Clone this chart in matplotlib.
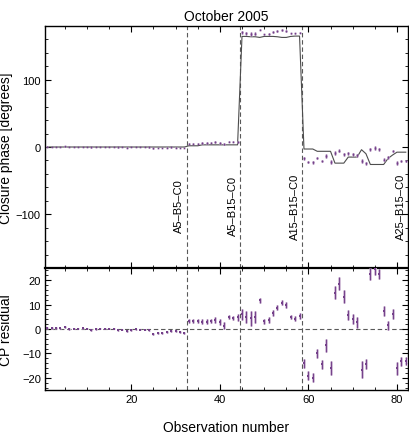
import numpy as np
import matplotlib
matplotlib.use("Agg")
import matplotlib.pyplot as plt
from matplotlib.ticker import MultipleLocator

plt.rcParams['font.family'] = ['Liberation Sans', 'DejaVu Sans']

# Observation numbers 1..82
obs = np.arange(1, 83)

# Model closure phase (degrees)
cp_model = [0.0] * 32 + \
    [1.8, 1.8, 1.8, 3.2, 3.2, 3.2, 3.2, 3.2, 3.2, 3.2, 3.2, 3.2] + \
    [164.5, 164.5, 164.0, 164.0, 163.0, 164.5, 164.5, 164.5, 164.0, 163.0, 163.0, 164.5, 165.0, 165.0] + \
    [-3, -3, -3, -6.4, -6.4, -6.4, -6.4, -24, -24, -24, -15, -15, -15, -4, -10, -26,
     -26, -26, -26, -17, -12, -7.7, -7.7, -7.7]

# Measured closure phase (degrees)
cp_obs = [0.5, 0.4, 0.4, 0.3, 0.8, 0.0, 0.2, 0.2, 0.3, 0.2, -0.5, 0.0, 0.2, 0.1, 0.2, 0.2,
          -0.6, -0.3, -0.8, -0.4, -0.2, -0.3, -0.3, -0.6, -1.9, -1.6, -1.6, -1.1, -0.7, -0.8, -1.2, -1.6,
          4.9, 5.1, 5.2, 6.1, 6.1, 6.5, 7.0, 5.9, 4.6, 8.1, 7.6, 8.0,
          170.5, 169.4, 168.4, 168.8, 174.7, 167.6, 168.1, 171.2, 172.8, 173.8, 172.9, 169.3, 169.3, 170.2,
          -17.1, -22.1, -22.9, -16.4, -20.8, -13.1, -22.5, -9.2, -5.4, -10.7, -9.4, -10.9,
          -12.3, -20.6, -24.4, -3.4, -1.5, -3.4, -18.7, -15.5, -5.8, -23.8, -21.0, -20.7]

# Residual (degrees)
cp_resid = [0.5, 0.4, 0.4, 0.3, 0.8, 0.0, 0.2, 0.2, 0.3, 0.2, -0.5, 0.0, 0.2, 0.1, 0.2, 0.2,
            -0.6, -0.3, -0.8, -0.4, -0.2, -0.3, -0.3, -0.6, -1.9, -1.6, -1.6, -1.1, -0.7, -0.8, -1.2, -1.6,
            3.1, 3.3, 3.4, 2.9, 2.9, 3.3, 3.8, 2.7, 1.4, 4.9, 4.4, 4.8,
            6.0, 4.9, 4.4, 4.8, 11.7, 3.1, 3.6, 6.7, 8.8, 10.8, 9.9, 4.8, 4.3, 5.2,
            -14.1, -19.1, -19.9, -10.0, -14.4, -6.7, -16.1, 14.8, 18.6, 13.3, 5.6, 4.1,
            2.7, -16.6, -14.4, 22.6, 24.5, 22.6, 7.3, 1.5, 6.2, -16.1, -13.3, -13.0]

# 1-sigma errors (degrees)
cp_err = [0.3] * 24 + [0.4] * 8 + \
    [0.8, 0.8, 0.8, 1.0, 1.0, 1.0, 1.2, 1.2, 1.5, 0.8, 0.8, 1.5] + \
    [2.3, 2.4, 3.0, 2.5, 1.0, 1.2, 1.2, 1.2, 1.2, 1.0, 1.2, 0.9, 0.9, 1.2] + \
    [1.85, 2.0, 2.0, 1.85, 1.9, 2.7, 2.9, 2.7, 2.6, 2.5, 2.0, 1.9,
     2.3, 3.3, 2.0, 2.4, 2.4, 2.0, 2.0, 1.8, 2.0, 2.6, 2.0, 1.6]

# Triangle configuration boundaries and labels
boundaries = [32.5, 44.5, 58.5, 82.5]
config_labels = ["A5\u2013B5\u2013C0", "A5\u2013B15\u2013C0", "A15\u2013B15\u2013C0", "A25\u2013B15\u2013C0"]

dark = '#74408a'
light = '#cdb8d4'
dash = (0, (4, 2.5))

fig = plt.figure(figsize=(4.09, 4.35), dpi=100)
ax1 = fig.add_axes([45 / 409, 1 - 269 / 435, 363 / 409, 242 / 435])
ax2 = fig.add_axes([45 / 409, 1 - 391 / 435, 363 / 409, 122 / 435])

# top panel: closure phase
ax1.plot(obs, cp_model, color='0.3', lw=0.8, zorder=2)
ax1.errorbar(obs, cp_obs, yerr=cp_err, fmt='none', ecolor=light, elinewidth=1.8, zorder=3)
ax1.errorbar(obs, cp_obs, yerr=cp_err, fmt='s', color=dark, ms=1.2, mew=0, elinewidth=0.6,
             capsize=0, zorder=4)
for b, lab in zip(boundaries, config_labels):
    if b < 82:
        ax1.axvline(b, color='0.35', lw=0.8, ls=dash, zorder=1)
    ax1.text(b - 0.5, -87, lab, rotation=90, ha='right', va='center', fontsize=8)
ax1.set_xlim(0.5, 82.5)
ax1.set_ylim(-180, 180)
ax1.set_ylabel("Closure phase [degrees]", fontsize=10)
ax1.yaxis.set_label_coords(-0.087, 0.5)
ax1.set_title("October 2005", fontsize=10, pad=4)
ax1.yaxis.set_major_locator(MultipleLocator(100))
ax1.yaxis.set_minor_locator(MultipleLocator(20))
ax1.tick_params(labelbottom=False)

# bottom panel: residuals
ax2.axhline(0, color='0.35', lw=0.8, ls=dash, zorder=1)
for b in boundaries[:3]:
    ax2.axvline(b, color='0.35', lw=0.8, ls=dash, zorder=1)
ax2.errorbar(obs, cp_resid, yerr=cp_err, fmt='none', ecolor=light, elinewidth=2.0, zorder=3)
ax2.errorbar(obs, cp_resid, yerr=cp_err, fmt='s', color=dark, ms=1.5, mew=0, elinewidth=0.7,
             capsize=0, zorder=4)
ax2.set_xlim(0.5, 82.5)
ax2.set_ylim(-25, 25)
ax2.set_ylabel("CP residual", fontsize=10)
ax2.yaxis.set_label_coords(-0.087, 0.5)
ax2.set_xlabel("Observation number", fontsize=10)
ax2.xaxis.set_label_coords(0.5, -0.25)
ax2.yaxis.set_major_locator(MultipleLocator(10))
ax2.yaxis.set_minor_locator(MultipleLocator(2))

for ax in (ax1, ax2):
    ax.xaxis.set_major_locator(MultipleLocator(20))
    ax.xaxis.set_minor_locator(MultipleLocator(5))
    ax.tick_params(which='both', direction='in', top=True, right=True, labelsize=8)
    ax.tick_params(which='major', length=4.5, width=0.8, pad=3)
    ax.tick_params(which='minor', length=2.5, width=0.6)
    for s in ax.spines.values():
        s.set_linewidth(1.0)
ax2.spines['top'].set_linewidth(1.6)

fig.savefig("out.png", dpi=100)
